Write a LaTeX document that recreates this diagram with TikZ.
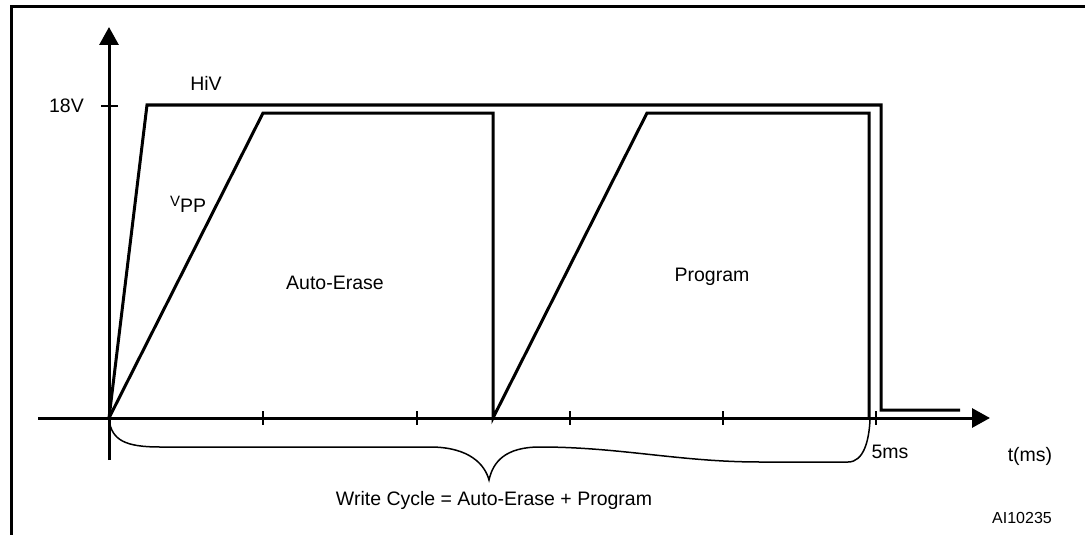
\documentclass[tikz,border=0pt]{standalone}
\usepackage{fontspec}
\setmainfont{Liberation Sans}
\usetikzlibrary{arrows.meta}
\begin{document}
\begin{tikzpicture}[x=1pt,y=-1pt,
  axis/.style={line width=3pt, -{Triangle[length=18pt,width=19pt]}},
  signal/.style={line width=3pt, line join=miter},
  tickmark/.style={line width=1.5pt},
  bracestyle/.style={line width=1.5pt},
  lbl/.style={font=\fontsize{19.5}{22}\selectfont, inner sep=0pt},
  ]
\useasboundingbox (0,0) rectangle (1085,535);
% frame
\draw[line width=3pt] (11,535) -- (11,7) -- (1085,7);
% axes
\coordinate (O) at (109,418);
\coordinate (ybot) at (109,460);
\coordinate (ytop) at (109,27);
\coordinate (xleft) at (38,418);
\coordinate (xright) at (990,418);
\draw[axis] (ybot) -- (ytop);
\draw[axis] (xleft) -- (xright);
% ticks
\draw[tickmark] (101,106) -- (118,106);
\foreach \x in {263,417,570,723,876} \draw[tickmark] (\x,411) -- (\x,425);
% HiV
\draw[signal] (O) -- (147,105) -- (881,105) -- (881,410) -- (960,410);
% Vpp
\draw[signal] (O) -- (263,113) -- (493,113) -- (493,418) -- (647,113) -- (869,113) -- (869,418);
% brace
\draw[bracestyle] (109,420) .. controls (112,440) and (125,447) .. (160,447) -- (430,447) .. controls (470,447) and (485,465) .. (489,480) .. controls (493,462) and (505,447) .. (540,447) .. controls (620,447) and (680,462) .. (760,462) -- (848,462) .. controls (864,462) and (869,440) .. (870,420);
% labels
\node[lbl, anchor=east] (v18) at (84,106) {18V};
\node[lbl] (hiv) at (206,83) {HiV};
\node[lbl] (ae) at (335,283) {Auto-Erase};
\node[lbl] (prog) at (712,277) {Program};
\node[lbl] (ms5) at (890,452) {5ms};
\node[lbl] (tms) at (1030,456) {t(ms)};
\node[lbl] (wc) at (494,500) {Write Cycle = Auto-Erase + Program};
\node[font=\fontsize{16}{18}\selectfont, inner sep=0pt] (ai) at (1022,518) {AI10235};
\node[lbl, anchor=base west] (vpp) at (170,206) {\fontsize{15}{17}\selectfont V\fontsize{19.5}{22}\selectfont\raisebox{-6pt}{PP}};
\end{tikzpicture}
\end{document}
